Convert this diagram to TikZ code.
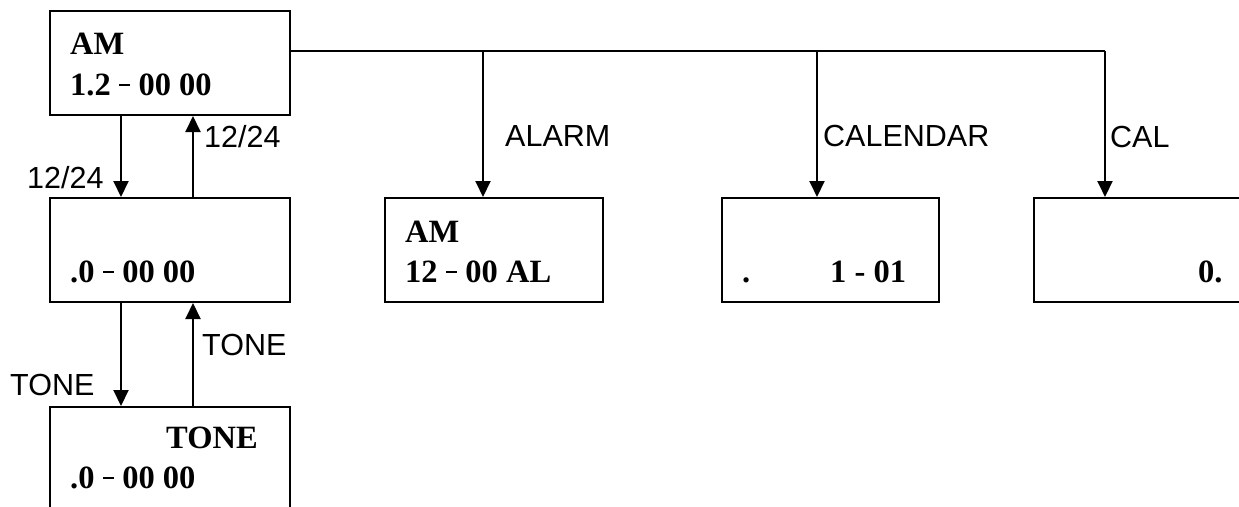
\documentclass[tikz,border=0pt]{standalone}
\usepackage{fontspec}
\setmainfont{Liberation Serif}
\setsansfont{Liberation Sans}
\usetikzlibrary{arrows.meta}
\tikzset{
  box/.style={draw, line width=2pt, rectangle, inner sep=0pt, anchor=north west},
  lcd/.style={font=\bfseries\fontsize{32.5}{32.5}\selectfont, inner sep=0pt, anchor=base west},
  keylbl/.style={font=\sffamily\fontsize{30.5}{30.5}\selectfont, inner sep=0pt, anchor=base west},
  arr/.style={line width=2pt, -{Triangle[length=16pt,width=15pt]}},
  wire/.style={line width=2pt},
}
% short thin separator used on the display
\newcommand{\lcdsep}{\hspace{0.5pt}\rule[9.5pt]{10.5pt}{1.8pt}\hspace{0.5pt}}
\begin{document}
\begin{tikzpicture}[x=1pt,y=-1pt]
\clip (0,0) rectangle (1239,506);
\fill[white] (0,0) rectangle (1239,506);

% display boxes
\node[box, minimum width=240pt, minimum height=104pt] (b1) at (49,10) {};
\node[box, minimum width=240pt, minimum height=104pt] (b2) at (49,197) {};
\node[box, minimum width=240pt, minimum height=140pt] (b3) at (49,406) {};
\node[box, minimum width=218pt, minimum height=104pt] (ba) at (384,197) {};
\node[box, minimum width=217pt, minimum height=104pt] (bc) at (721,197) {};
\node[box, minimum width=240pt, minimum height=104pt] (bk) at (1033,197) {};

% display contents
\node[lcd] (t1a) at (70,54) {AM};
\node[lcd] (t1b) at (70,95) {1.2 \lcdsep{} 00 00};
\node[lcd] (t2) at (70,282) {.0 \lcdsep{} 00 00};
\node[lcd] (t3a) at (166,448) {TONE};
\node[lcd] (t3b) at (70,488) {.0 \lcdsep{} 00 00};
\node[lcd] (tAa) at (405,242) {AM};
\node[lcd] (tAb) at (405,282) {12 \lcdsep{} 00 AL};
\node[lcd] (tCa) at (742,282) {.};
\node[lcd] (tCb) at (830,282) {1 - 01};
\node[lcd] (tK) at (1198,282) {0.};

% connector columns
\coordinate (dn) at (121,0);
\coordinate (up) at (193,0);
\coordinate (bus) at (289,51);
\coordinate (ca) at (483,0);
\coordinate (cc) at (817,0);
\coordinate (ck) at (1105,0);

% 12/24 and TONE toggles
\draw[arr] (b1.south -| dn) -- (b2.north -| dn);
\draw[arr] (b2.north -| up) -- (b1.south -| up);
\draw[arr] (b2.south -| dn) -- (b3.north -| dn);
\draw[arr] (b3.north -| up) -- (b2.south -| up);

% mode bus
\draw[wire] (b1.east |- bus) -- (bus -| ck);
\draw[arr] (bus -| ca) -- (ba.north -| ca);
\draw[arr] (bus -| cc) -- (bc.north -| cc);
\draw[arr] (bus -| ck) -- (bk.north -| ck);

% key labels
\node[keylbl] (l1) at (204,147) {12/24};
\node[keylbl] (l2) at (27,188) {12/24};
\node[keylbl] (l3) at (202,355) {TONE};
\node[keylbl] (l4) at (10,395) {TONE};
\node[keylbl] (l5) at (505,146) {ALARM};
\node[keylbl] (l6) at (823,146) {CALENDAR};
\node[keylbl] (l7) at (1110,147) {CAL};
\end{tikzpicture}
\end{document}
